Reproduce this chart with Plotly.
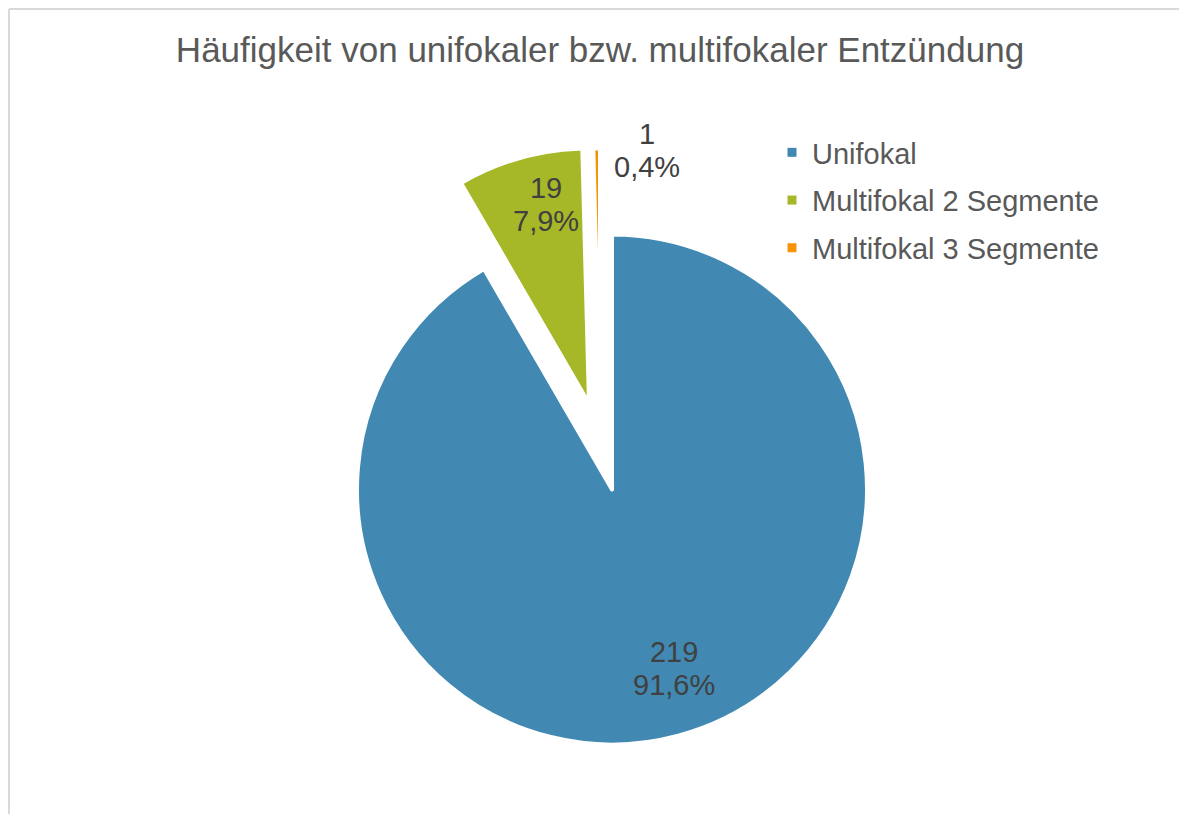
import plotly.graph_objects as go

# ---- data ----
labels = ["Unifokal", "Multifokal 2 Segmente", "Multifokal 3 Segmente"]
values = [219, 19, 1]
title_text = "Häufigkeit von unifokaler bzw. multifokaler Entzündung"

# ---- style ----
colors = ["#4189B2", "#A6B828", "#F79200"]
# exploded offset of each slice in pixels (dx, dy) relative to the pie centre
explode_px = [(0, 0), (-23, -86), (-12, -86)]
# data-label centres in pixels (x, y from top)
label_px = [(666, 660), (538, 196), (639, 142)]

W, H = 1187, 814
CX, CY, R = 604, 481.5, 255
FONT = "Liberation Sans, Arial, sans-serif"

total = sum(values)
fig = go.Figure()

start = 0
for i, (lab, val) in enumerate(zip(labels, values)):
    dx, dy = explode_px[i]
    cx, cy = CX + dx, CY + dy
    dom_x = [(cx - R) / W, (cx + R) / W]
    dom_y = [1 - (cy + R) / H, 1 - (cy - R) / H]
    fig.add_trace(go.Pie(
        labels=[lab, " "],
        values=[val, total - val],
        sort=False,
        direction="clockwise",
        rotation=360 * start / total,
        marker=dict(colors=[colors[i], "rgba(0,0,0,0)"],
                    line=dict(color="white", width=[4, 0])),
        textinfo="none",
        hoverinfo="skip",
        showlegend=False,
        domain=dict(x=dom_x, y=dom_y),
    ))
    start += val

# data labels (value + percent, decimal comma)
annotations = []
for val, (lx, ly) in zip(values, label_px):
    pct = f"{100 * val / total:.1f}".replace(".", ",") + "%"
    annotations.append(dict(
        text=f"<span style='font-size:29px'>{val}</span><br>"
             f"<span style='font-size:29px'>{pct}</span>",
        x=lx / W, y=1 - ly / H, xref="paper", yref="paper",
        xanchor="center", yanchor="middle", showarrow=False, align="center",
        font=dict(family=FONT, size=25, color="#404040"),
    ))

# legend entries
for lab, col in zip(labels, colors):
    fig.add_trace(go.Scatter(
        x=[None], y=[None], mode="markers", name=lab, legendgroup=lab,
        marker=dict(symbol="square", size=9, color=col),
    ))

fig.update_layout(
    width=W, height=H,
    margin=dict(l=0, r=0, t=0, b=0),
    paper_bgcolor="white", plot_bgcolor="white",
    title=dict(text=title_text, x=592 / W, xanchor="center",
               y=1 - 42 / H, yanchor="middle", yref="container",
               font=dict(family=FONT, size=35, color="#595959")),
    xaxis=dict(visible=False), yaxis=dict(visible=False),
    legend=dict(x=764 / W, xanchor="left", y=1 - 119 / H, yanchor="top",
                font=dict(family=FONT, size=29, color="#595959"),
                traceorder="grouped", tracegroupgap=7,
                bgcolor="rgba(0,0,0,0)"),
    annotations=annotations,
    shapes=[
        dict(type="line", xref="paper", yref="paper",
             x0=1 / W, x1=1, y0=1 - 1 / H, y1=1 - 1 / H,
             line=dict(color="#D9D9D9", width=2)),
        dict(type="line", xref="paper", yref="paper",
             x0=1 / W, x1=1 / W, y0=0, y1=1 - 1 / H,
             line=dict(color="#D9D9D9", width=2)),
    ],
)

fig.write_html("out.html")
